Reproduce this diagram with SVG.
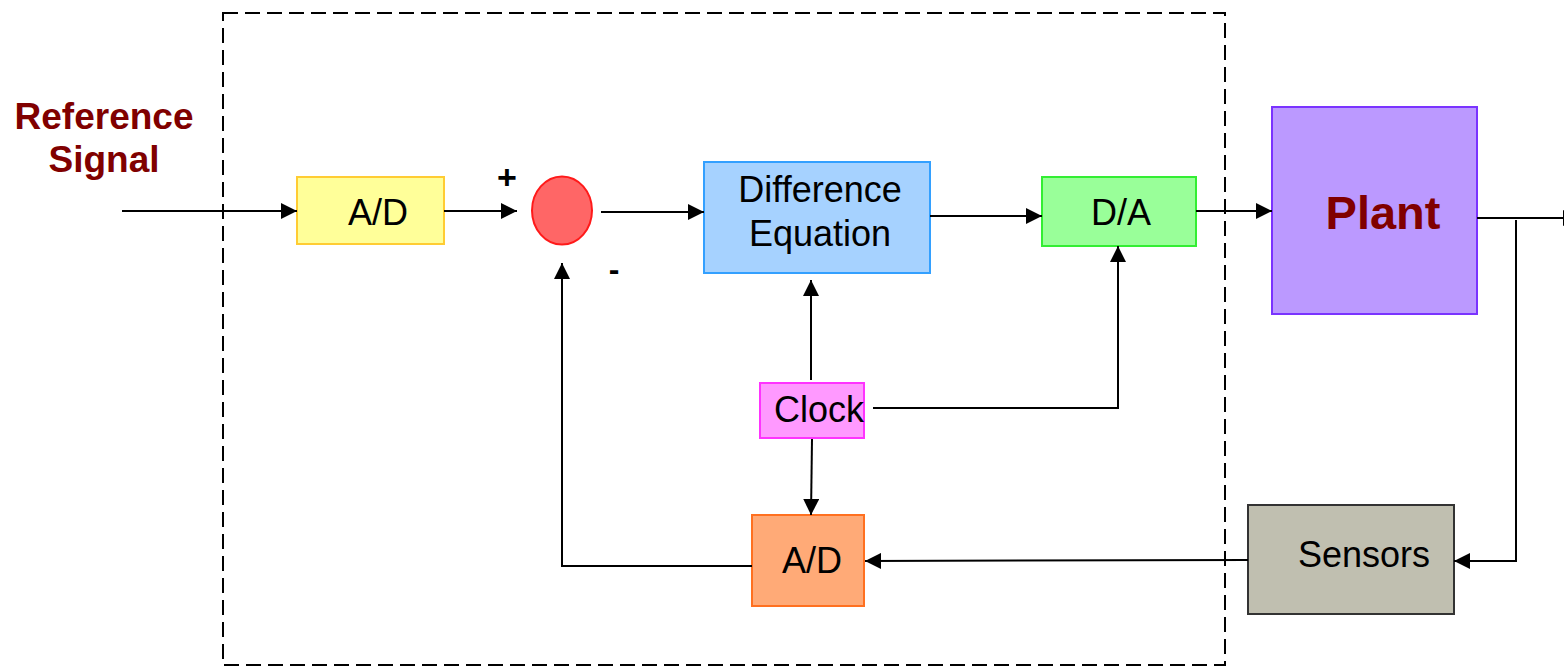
<svg xmlns="http://www.w3.org/2000/svg" width="1564" height="667" viewBox="0 0 1564 667">
<style>
.t{font-family:"Liberation Sans",Arial,sans-serif;font-size:36px;fill:#000;text-anchor:middle}
.b{font-family:"Liberation Sans",Arial,sans-serif;font-weight:bold;fill:#800000;text-anchor:middle}
.w{stroke:#000;stroke-width:2;fill:none}
.a{marker-end:url(#ah)}
</style>
<defs>
<marker id="ah" viewBox="0 0 16 16" refX="16" refY="8" markerWidth="16" markerHeight="16" markerUnits="userSpaceOnUse" orient="auto">
<path d="M0,0 L16,8 L0,16 Z" fill="#000"/>
</marker>
</defs>
<rect id="boundary" x="223" y="13" width="1002" height="652" fill="none" stroke="#000" stroke-width="2" stroke-dasharray="15 7"/>
<g id="reference-signal">
<text class="b" x="104" y="129" font-size="37">Reference</text>
<text class="b" x="104" y="172" font-size="37">Signal</text>
</g>
<g id="ad1">
<rect x="297" y="177" width="147" height="67" fill="#ffff99" stroke="#ffcc33" stroke-width="2"/>
<text class="t" x="378" y="225">A/D</text>
</g>
<g id="sum">
<ellipse cx="562" cy="210.5" rx="30" ry="34" fill="#ff6666" stroke="#ff1a1a" stroke-width="2"/>
<text x="507" y="189" font-family="Liberation Sans, Arial, sans-serif" font-weight="bold" font-size="34" fill="#000" text-anchor="middle">+</text>
<text x="614" y="280" font-family="Liberation Sans, Arial, sans-serif" font-weight="bold" font-size="32" fill="#000" text-anchor="middle">-</text>
</g>
<g id="diffeq">
<rect x="704" y="162" width="226" height="111" fill="#a6d2ff" stroke="#33a0ff" stroke-width="2"/>
<text class="t" x="820" y="202">Difference</text>
<text class="t" x="820" y="246">Equation</text>
</g>
<g id="da">
<rect x="1042" y="177" width="154" height="69" fill="#99ff99" stroke="#33ee33" stroke-width="2"/>
<text class="t" x="1121" y="225">D/A</text>
</g>
<g id="plant">
<rect x="1272" y="107" width="205" height="207" fill="#bb99ff" stroke="#7a33ff" stroke-width="2"/>
<text class="b" x="1383" y="229" font-size="47">Plant</text>
</g>
<g id="clock">
<rect x="760" y="383" width="104" height="55" fill="#ff99ff" stroke="#ff33ff" stroke-width="2"/>
<text class="t" x="819" y="422">Clock</text>
</g>
<g id="ad2">
<rect x="752" y="515" width="112" height="91" fill="#ffaa77" stroke="#ff7020" stroke-width="2"/>
<text class="t" x="812" y="573">A/D</text>
</g>
<g id="sensors">
<rect x="1248" y="505" width="206" height="109" fill="#c0bfb0" stroke="#333" stroke-width="2"/>
<text class="t" x="1364" y="567">Sensors</text>
</g>
<g id="connectors">
<line class="w a" x1="122" y1="211" x2="297" y2="211"/>
<line class="w a" x1="444" y1="211" x2="517" y2="211"/>
<line class="w a" x1="601" y1="212" x2="704" y2="212"/>
<line class="w a" x1="930" y1="216" x2="1042" y2="216"/>
<line class="w a" x1="1196" y1="211" x2="1272" y2="211"/>
<line class="w a" x1="1477" y1="218" x2="1579" y2="218"/>
<polyline class="w a" points="1516,220 1516,561 1454,561" stroke-width="3"/>
<line class="w a" x1="1248" y1="560" x2="865" y2="561"/>
<polyline class="w a" points="752,566 562,566 562,263" stroke-width="3"/>
<line class="w a" x1="811" y1="380" x2="811" y2="280"/>
<polyline class="w a" points="873,408 1118,408 1118,246"/>
<line class="w a" x1="812" y1="439" x2="811" y2="515"/>
</g>
</svg>
